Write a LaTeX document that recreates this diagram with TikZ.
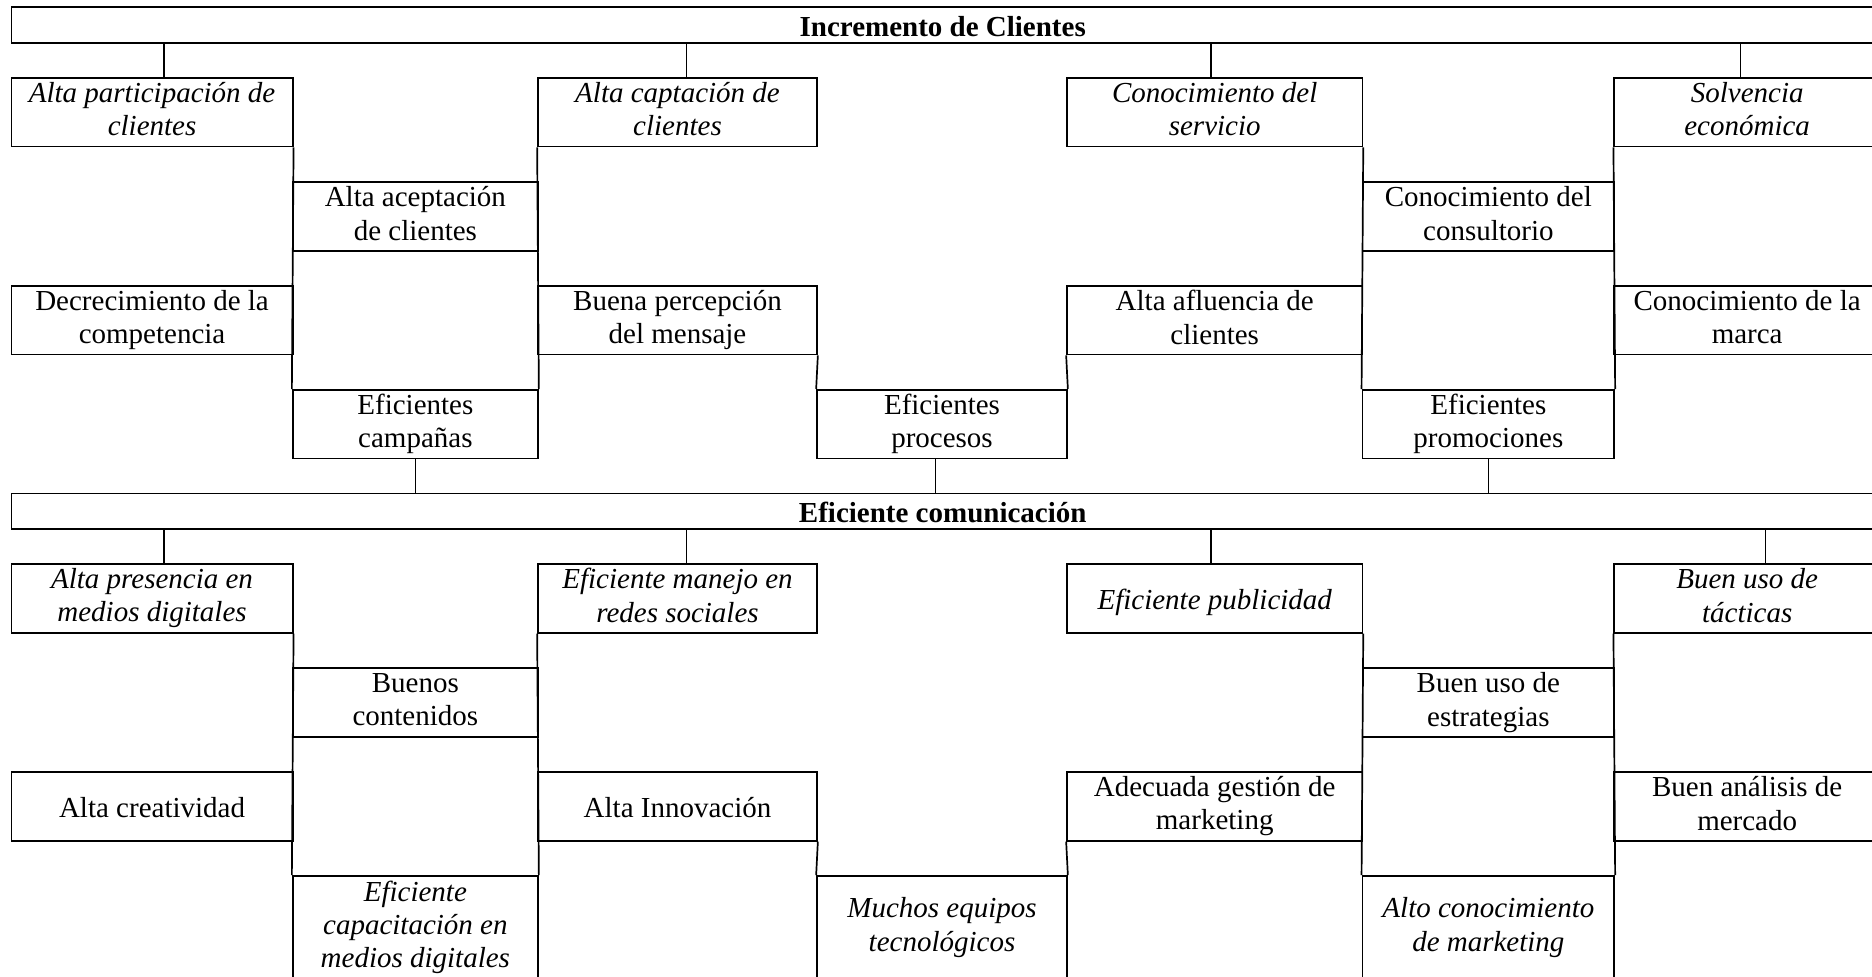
\documentclass[tikz,border=0pt]{standalone}
\usepackage{fontspec}
\setmainfont{Liberation Serif}
\usepackage{tikz}

\newcommand{\cellstrut}{\rule[-3pt]{0pt}{17pt}}

\tikzset{
  celda/.style={draw, line width=0.85pt, inner sep=0pt, align=center,
    minimum height=34.3pt, font=\fontsize{14.5}{16.65}\selectfont,
    execute at begin node=\cellstrut, execute at end node=\cellstrut},
  causa/.style={celda, font=\fontsize{14.5}{16.65}\selectfont\itshape},
  titulo/.style={celda, font=\fontsize{14.5}{16.65}\selectfont\bfseries,
    minimum height=17.7pt, minimum width=931.3pt},
  enlace/.style={line width=0.85pt},
  % anchos de columna
  colA/.style={minimum width=140.65pt},
  colB/.style={minimum width=122.65pt},
  colC/.style={minimum width=139.5pt},
  colD/.style={minimum width=125pt},
  colE/.style={minimum width=147.7pt},
  colF/.style={minimum width=125.95pt},
  colG/.style={minimum width=132.85pt},
  alta/.style={minimum height=51.5pt}
}

\begin{document}
\begin{tikzpicture}[x=0.5pt, y=-0.5pt]
\useasboundingbox (0,0) rectangle (1872,976);
\clip (0,0) rectangle (1872,976);

% arbol de fines
\node[titulo] (inc) at (942.7,25) {Incremento de Clientes};

\node[causa, colA] (c11) at (152.05,112.2) {Alta participación de\\clientes};
\node[causa, colC] (c31) at (677.5,112.2) {Alta captación de\\clientes};
\node[causa, colE] (c51) at (1214.7,112.2) {Conocimiento del\\servicio};
\node[causa, colG] (c71) at (1747.15,112.2) {Solvencia\\económica};

\node[celda, colB] (c22) at (415.35,216.5) {Alta aceptación\\de clientes};
\node[celda, colF] (c62) at (1488.35,216.5) {Conocimiento del\\consultorio};

\node[celda, colA] (c13) at (152.05,320.15) {Decrecimiento de la\\competencia};
\node[celda, colC] (c33) at (677.5,320.15) {Buena percepción\\del mensaje};
\node[celda, colE] (c53) at (1214.7,320.15) {Alta afluencia de\\clientes};
\node[celda, colG] (c73) at (1747.15,320.15) {Conocimiento de la\\marca};

\node[celda, colB] (c24) at (415.35,424.15) {Eficientes\\campañas};
\node[celda, colD] (c44) at (942,424.15) {Eficientes\\procesos};
\node[celda, colF] (c64) at (1488.35,424.15) {Eficientes\\promociones};

\foreach \n/\dx in {c11/6pt, c31/4.5pt, c51/-2pt, c71/-3.4pt}{
  \coordinate (p) at ([xshift=\dx]\n.north);
  \draw[enlace] (p) -- (p |- inc.south);
}

\draw[enlace] (c11.south east) -- (c24.north west);
\draw[enlace] (c31.south west) -- (c24.north east);
\draw[enlace] (c33.south east) -- (c44.north west);
\draw[enlace] (c53.south west) -- (c44.north east);
\draw[enlace] (c51.south east) -- (c64.north west);
\draw[enlace] (c71.south west) -- (c64.north east);

% arbol de medios
\node[titulo] (com) at (942.7,511.15) {Eficiente comunicación};

\draw[enlace] (c24.south) -- (c24.south |- com.north);
\coordinate (q) at ([xshift=-3.25pt]c44.south);
\draw[enlace] (q) -- (q |- com.north);
\draw[enlace] (c64.south) -- (c64.south |- com.north);

\node[causa, colA] (d11) at (152.05,598.35) {Alta presencia en\\medios digitales};
\node[causa, colC] (d31) at (677.5,598.35) {Eficiente manejo en\\redes sociales};
\node[causa, colE] (d51) at (1214.7,598.35) {Eficiente publicidad};
\node[causa, colG] (d71) at (1747.15,598.35) {Buen uso de\\tácticas};

\node[celda, colB] (d22) at (415.35,702.5) {Buenos\\contenidos};
\node[celda, colF] (d62) at (1488.35,702.5) {Buen uso de\\estrategias};

\node[celda, colA] (d13) at (152.05,806.35) {Alta creatividad};
\node[celda, colC] (d33) at (677.5,806.35) {Alta Innovación};
\node[celda, colE] (d53) at (1214.7,806.35) {Adecuada gestión de\\marketing};
\node[celda, colG] (d73) at (1747.15,806.35) {Buen análisis de\\mercado};

\node[causa, colB, alta] (d24) at (415.35,927.5) {Eficiente\\capacitación en\\medios digitales};
\node[causa, colD, alta] (d44) at (942,927.5) {Muchos equipos\\tecnológicos};
\node[causa, colF, alta] (d64) at (1488.35,927.5) {Alto conocimiento\\de marketing};

\foreach \n/\dx in {d11/6pt, d31/4.5pt, d51/-2pt, d71/9.1pt}{
  \coordinate (p) at ([xshift=\dx]\n.north);
  \draw[enlace] (p) -- (p |- com.south);
}

\draw[enlace] (d11.south east) -- (d24.north west);
\draw[enlace] (d31.south west) -- (d24.north east);
\draw[enlace] (d33.south east) -- (d44.north west);
\draw[enlace] (d53.south west) -- (d44.north east);
\draw[enlace] (d51.south east) -- (d64.north west);
\draw[enlace] (d71.south west) -- (d64.north east);

\end{tikzpicture}
\end{document}
